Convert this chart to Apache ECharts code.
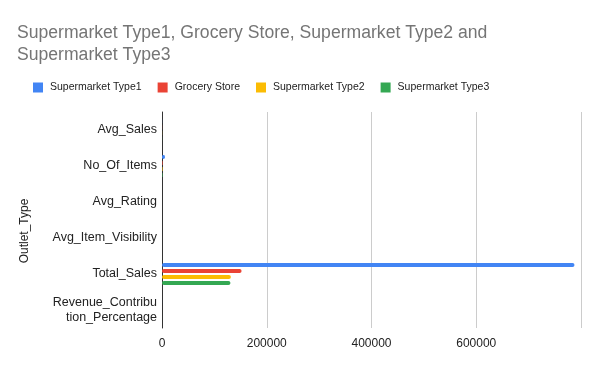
<!DOCTYPE html>
<html><head><meta charset="utf-8">
<script src="https://cdn.jsdelivr.net/npm/echarts@6/dist/echarts.min.js"></script>
<style>html,body{margin:0;padding:0;background:#fff}#c{width:600px;height:371px}</style>
</head><body><div id="c"></div>
<script>
const categories = ['Avg_Sales','No_Of_Items','Avg_Rating','Avg_Item_Visibility','Total_Sales','Revenue_Contribution_Percentage'];
const seriesNames = ['Supermarket Type1','Grocery Store','Supermarket Type2','Supermarket Type3'];
const type1 = [141.2, 5577, 3.96, 0.07, 787550, 65.5];
const grocery = [140.3, 1083, 3.94, 0.1, 151939, 12.6];
const type2 = [141.7, 928, 3.97, 0.06, 131478, 10.9];
const type3 = [139.8, 935, 3.95, 0.06, 130715, 10.9];
const xTicks = [0, 200000, 400000, 600000, 800000];
const colors = ['#4285F4','#EA4335','#FBBC04','#34A853'];
const allData = [type1, grocery, type2, type3];

const FONT = 'Liberation Sans, Arial';
const chart = echarts.init(document.getElementById('c'));
chart.setOption({
  animation: false,
  color: colors,
  title: {
    text: 'Supermarket Type1, Grocery Store, Supermarket Type2 and\nSupermarket Type3',
    left: 12, top: 17,
    textStyle: { fontFamily: FONT, fontSize: 17.6, fontWeight: 'normal', color: '#757575', lineHeight: 22 }
  },
  legend: {
    left: 28, top: 77,
    itemWidth: 10, itemHeight: 10, itemGap: 16,
    icon: 'rect',
    textStyle: { fontFamily: FONT, fontSize: 10.5, color: '#222', padding: [0,0,0,2] },
    data: seriesNames
  },
  grid: { left: 162, right: 19, top: 112, bottom: 43, containLabel: false },
  xAxis: {
    type: 'value', min: xTicks[0], max: xTicks[xTicks.length-1], interval: xTicks[1]-xTicks[0],
    axisLine: { show: false }, axisTick: { show: false },
    splitLine: { lineStyle: { color: '#cccccc' } },
    axisLabel: { showMaxLabel: false, color: '#222', fontFamily: FONT, fontSize: 12, margin: 10,
      formatter: v => String(v) }
  },
  yAxis: {
    type: 'category', data: categories, inverse: true,
    name: 'Outlet_Type', nameLocation: 'middle', nameGap: 131,
    nameTextStyle: { fontFamily: FONT, fontSize: 12, color: '#222', padding: [0, 22, 0, 0] },
    axisLine: { show: true, lineStyle: { color: '#333' } },
    axisTick: { show: false },
    axisLabel: {
      color: '#222', fontFamily: FONT, fontSize: 12.5, margin: 5, lineHeight: 15,
      formatter: v => v.length > 20 ? v.slice(0,16) + '\n' + v.slice(16) : v
    }
  },
  series: seriesNames.map((n, i) => ({
    name: n, type: 'bar', data: allData[i],
    barWidth: 4, barGap: '50%', barCategoryGap: '30%',
    itemStyle: { borderRadius: 2 }
  }))
});
</script></body></html>
